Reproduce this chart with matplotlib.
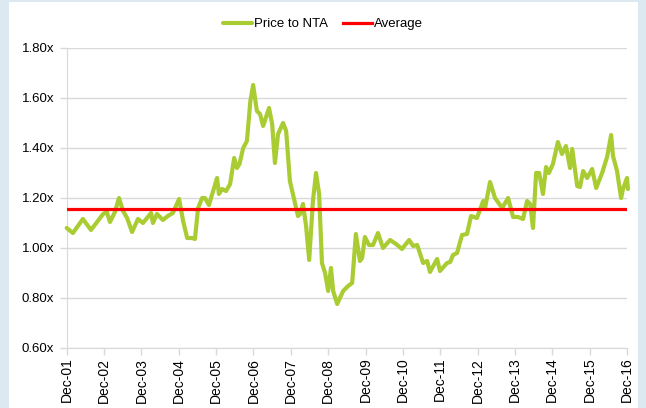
import matplotlib
matplotlib.use("Agg")
import matplotlib.pyplot as plt
from matplotlib.patches import Rectangle

plt.rcParams["font.family"] = ["Liberation Sans", "DejaVu Sans"]

# months since Dec-01, Price to NTA
MONTHS = [0, 2.0, 5.2, 7.8, 11.7, 12.9, 13.9, 15.5, 16.8, 18.1, 19.4, 21.0, 22.9, 24.5,
          27.1, 27.7, 29.0, 30.9, 32.5, 34.1, 36.1, 37.4, 38.7, 40.3, 41.2, 42.2, 43.5,
          44.4, 45.7, 48.3, 48.9, 49.9, 51.2, 52.5, 53.8, 54.7, 55.5, 56.7, 57.9, 59.0,
          59.9, 61.1, 62.1, 63.1, 65.0, 66.0, 66.9, 67.9, 69.5, 70.5, 71.7, 73.4, 74.3,
          75.0, 75.9, 76.9, 77.9, 79.1, 80.1, 81.1, 82.0, 83.0, 84.0, 84.9, 85.6, 86.9,
          88.8, 90.4, 91.7, 92.9, 94.2, 94.9, 95.8, 97.1, 98.4, 100.0, 101.6, 103.9,
          105.8, 107.7, 110.0, 111.3, 112.6, 114.5, 115.8, 116.7, 119.0, 119.9, 122.2,
          123.2, 124.1, 125.4, 127.0, 128.6, 129.9, 131.8, 133.8, 134.4, 136.0, 137.6,
          139.9, 141.8, 143.4, 145.0, 146.6, 147.9, 148.9, 149.8, 150.8, 151.8, 153.0,
          154.0, 154.9, 156.2, 157.8, 159.1, 160.4, 161.7, 162.4, 164.0, 164.9, 165.9,
          167.2, 168.8, 170.1, 172.0, 173.6, 174.9, 175.5, 176.8, 178.1, 178.7, 180.0,
          180.3]
PRICE_NTA = [1.08, 1.06, 1.116, 1.072, 1.136, 1.144, 1.104, 1.144, 1.20, 1.148, 1.12,
             1.064, 1.116, 1.10, 1.14, 1.10, 1.136, 1.112, 1.128, 1.14, 1.196, 1.108,
             1.04, 1.04, 1.036, 1.16, 1.20, 1.20, 1.172, 1.28, 1.216, 1.236, 1.228, 1.256,
             1.36, 1.32, 1.336, 1.40, 1.428, 1.588, 1.652, 1.548, 1.536, 1.488, 1.56,
             1.496, 1.34, 1.456, 1.50, 1.468, 1.268, 1.176, 1.128, 1.136, 1.176, 1.088,
             0.952, 1.188, 1.30, 1.216, 0.94, 0.90, 0.828, 0.92, 0.828, 0.776, 0.828,
             0.848, 0.86, 1.056, 0.948, 0.96, 1.044, 1.012, 1.012, 1.06, 1.00, 1.032,
             1.016, 0.996, 1.032, 1.008, 1.012, 0.94, 0.948, 0.904, 0.956, 0.908, 0.94,
             0.944, 0.972, 0.98, 1.052, 1.056, 1.128, 1.12, 1.188, 1.16, 1.264, 1.20,
             1.16, 1.20, 1.124, 1.124, 1.116, 1.188, 1.176, 1.08, 1.30, 1.30, 1.216,
             1.324, 1.30, 1.336, 1.424, 1.376, 1.408, 1.32, 1.396, 1.248, 1.244, 1.308,
             1.28, 1.316, 1.24, 1.30, 1.364, 1.452, 1.368, 1.308, 1.20, 1.236, 1.28,
             1.236]
AVERAGE = 1.156
XTICK_LABELS = ["Dec-%02d" % y for y in range(1, 17)]
YTICKS = [0.6, 0.8, 1.0, 1.2, 1.4, 1.6, 1.8]

fig = plt.figure(figsize=(6.46, 4.08), dpi=100)
fig.patch.set_facecolor("#DCE9F1")
fig.patches.append(Rectangle((9 / 646, 0), 629 / 646, 406 / 408, transform=fig.transFigure,
                             facecolor="white", edgecolor="none", zorder=-5))
ax = fig.add_axes([66.7 / 646, 1 - 348 / 408, (627 - 66.7) / 646, 300 / 408])
ax.set_facecolor("none")
ax.set_zorder(2)

ax.plot(MONTHS, PRICE_NTA, color="#AACC33", lw=3.0, solid_joinstyle="round",
        solid_capstyle="round", label="Price to NTA", zorder=3, clip_on=False)
ax.axhline(AVERAGE, color="#FF0000", lw=2.3, label="Average", zorder=4)

ax.set_xlim(0, 180)
ax.set_ylim(0.6, 1.8)
ax.set_xticks(range(0, 181, 12))
ax.set_xticklabels(XTICK_LABELS, rotation=90, fontsize=10)
ax.set_yticks(YTICKS)
ax.set_yticklabels(["%.2fx" % v for v in YTICKS], fontsize=9.5)
ax.grid(axis="y", color="#D9D9D9", lw=1)
ax.set_axisbelow(True)
for s in ("top", "right"):
    ax.spines[s].set_visible(False)
for s in ("left", "bottom"):
    ax.spines[s].set_color("#D9D9D9")
ax.tick_params(axis="both", color="#D9D9D9", length=5, width=1, labelcolor="black")
ax.tick_params(axis="x", pad=2)
ax.tick_params(axis="y", pad=4)

leg = fig.legend(loc="upper center", bbox_to_anchor=(0.5, 0.985), ncol=2, frameon=False,
                 fontsize=9.5, handlelength=2.2, handletextpad=0.1, columnspacing=1.2)
leg.set_zorder(3)

fig.savefig("out.png", dpi=100, facecolor=fig.get_facecolor())
